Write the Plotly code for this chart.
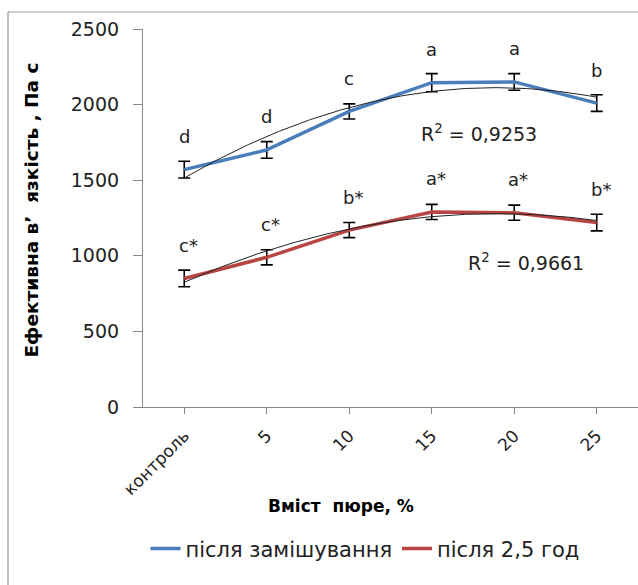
import numpy as np
import plotly.graph_objects as go

categories = ["контроль", "5", "10", "15", "20", "25"]
after_mixing = [1570, 1700, 1955, 2145, 2150, 2010]
after_mixing_err = [55, 55, 50, 60, 55, 55]
after_2_5h = [850, 990, 1170, 1290, 1285, 1220]
after_2_5h_err = [55, 50, 50, 50, 50, 55]
labels_mixing = ["d", "d", "c", "a", "a", "b"]
labels_2_5h = ["c*", "c*", "b*", "a*", "a*", "b*"]
r2_mixing = "R<sup>2</sup> = 0,9253"
r2_2_5h = "R<sup>2</sup> = 0,9661"

BLUE = "#4A7EBB"
RED = "#B84544"
FONT = "DejaVu Sans"

xi = np.arange(len(categories))
xs = np.linspace(0, len(categories) - 1, 200)

fig = go.Figure()

for vals, err, color, name in [
    (after_mixing, after_mixing_err, BLUE, "після замішування"),
    (after_2_5h, after_2_5h_err, RED, "після 2,5 год"),
]:
    fig.add_trace(go.Scatter(
        x=xi, y=vals, mode="lines", name=name,
        line=dict(color=color, width=3.5),
        error_y=dict(type="data", array=err, visible=True,
                     color="black", thickness=1.6, width=6),
    ))

for vals in [after_mixing, after_2_5h]:
    coef = np.polyfit(xi, vals, 2)
    fig.add_trace(go.Scatter(
        x=xs, y=np.polyval(coef, xs), mode="lines", showlegend=False,
        line=dict(color="#222", width=1), hoverinfo="skip",
    ))

anns = []
for vals, err, labs in [(after_mixing, after_mixing_err, labels_mixing),
                         (after_2_5h, after_2_5h_err, labels_2_5h)]:
    for i, (v, lab) in enumerate(zip(vals, labs)):
        anns.append(dict(x=i, y=v, text=lab, showarrow=False, yshift=33,
                         xshift=4 if "*" in lab else 0,
                         font=dict(family=FONT, size=18, color="#222")))
anns.append(dict(x=2.84, y=1810, text=r2_mixing, showarrow=False, xanchor="left",
                 font=dict(family=FONT, size=19, color="#222")))
anns.append(dict(x=3.41, y=960, text=r2_2_5h, showarrow=False, xanchor="left",
                 font=dict(family=FONT, size=19, color="#222")))
anns.append(dict(xref="paper", yref="paper", x=-0.226, y=0.52, textangle=-90,
                 xanchor="center", yanchor="middle",
                 text="<b>Ефективна в’  язкість , Па с</b>", showarrow=False,
                 font=dict(family=FONT, size=18.5, color="black")))
anns.append(dict(xref="paper", yref="paper", x=0.4, y=-0.262, yanchor="middle",
                 xanchor="center",
                 text="<b>Вміст  пюре, %</b>", showarrow=False,
                 font=dict(family=FONT, size=17, color="black")))
fig.update_layout(annotations=anns)

fig.update_layout(
    width=638, height=585,
    margin=dict(l=143, r=0, t=29, b=178),
    paper_bgcolor="white", plot_bgcolor="white",
    font=dict(family=FONT, size=19, color="#222"),
    showlegend=True,
    legend=dict(orientation="h", x=0.005, xanchor="left", y=-0.375, yanchor="middle",
                font=dict(family=FONT, size=21, color="#222"),
                itemwidth=30, tracegroupgap=0),
    shapes=[
        dict(type="line", xref="paper", yref="paper", x0=-0.2727, x1=-0.2727,
             y0=1.045, y1=-0.5, line=dict(color="#999", width=1.2)),
        dict(type="line", xref="paper", yref="paper", x0=-0.2727, x1=1.1,
             y0=1.045, y1=1.045, line=dict(color="#999", width=1.2)),
    ],
)
fig.update_xaxes(
    tickmode="array", tickvals=list(xi), ticktext=categories,
    range=[-0.5, len(categories) - 0.5], tickangle=-45,
    showline=True, linecolor="#888", linewidth=1.2,
    ticks="outside", tickson="boundaries", ticklen=6, tickcolor="#888",
    ticklabelstandoff=5,
    showgrid=False, zeroline=False,
    tickfont=dict(family=FONT, size=17, color="#222"),
)
fig.update_yaxes(
    range=[0, 2500], tickvals=[0, 500, 1000, 1500, 2000, 2500],
    showline=True, linecolor="#888", linewidth=1.2,
    ticks="outside", ticklen=9, tickcolor="#888",
    ticklabelstandoff=10,
    showgrid=False, zeroline=False,
    tickfont=dict(family=FONT, size=19, color="#222"),
)

fig.write_html("out.html")
